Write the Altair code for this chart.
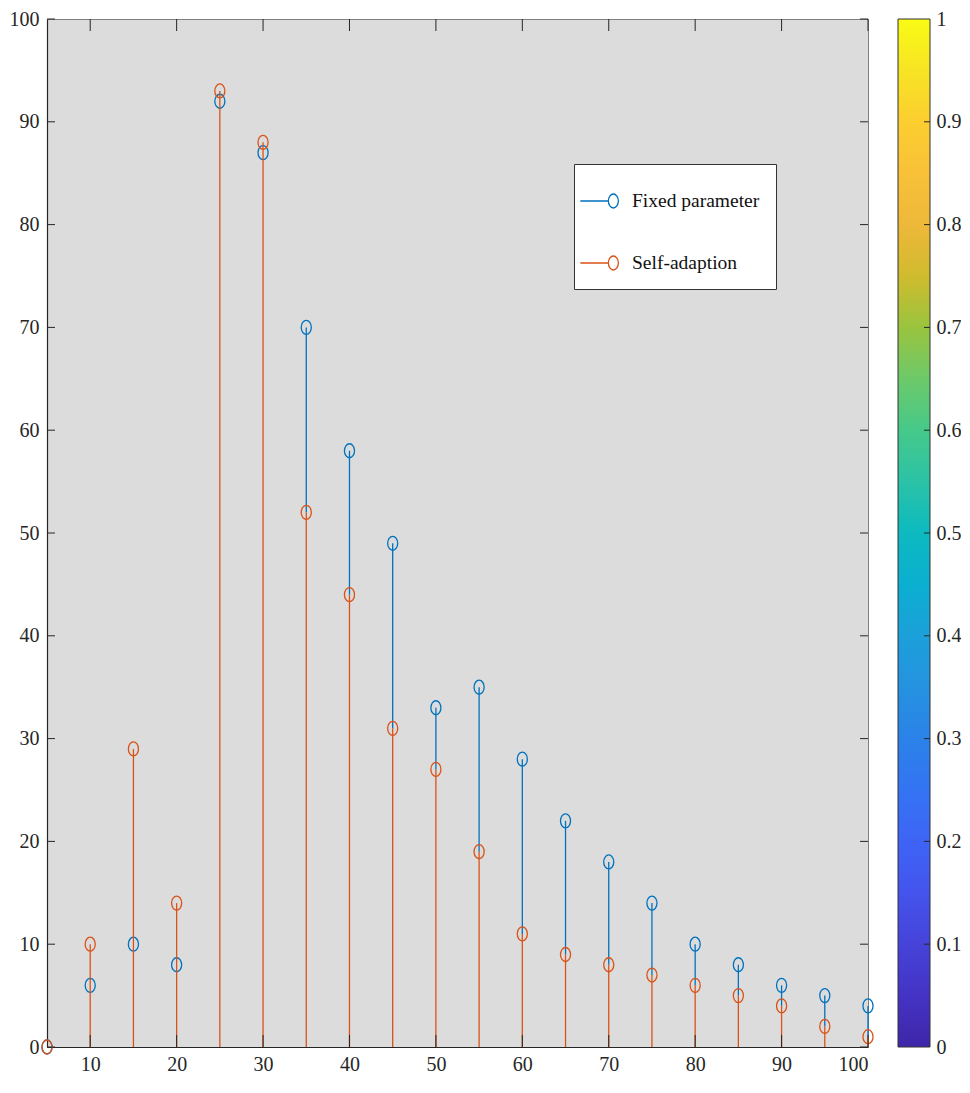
import altair as alt
import pandas as pd

# ---- data ----
x_vals = [5, 10, 15, 20, 25, 30, 35, 40, 45, 50, 55, 60, 65, 70, 75, 80, 85, 90, 95, 100]
fixed_vals = [0, 6, 10, 8, 92, 87, 70, 58, 49, 33, 35, 28, 22, 18, 14, 10, 8, 6, 5, 4]
adapt_vals = [0, 10, 29, 14, 93, 88, 52, 44, 31, 27, 19, 11, 9, 8, 7, 6, 5, 4, 2, 1]
series_names = ["Fixed parameter", "Self-adaption"]
series_colors = ["#0072BD", "#D95319"]

x_ticks = [10, 20, 30, 40, 50, 60, 70, 80, 90, 100]
y_ticks = [0, 10, 20, 30, 40, 50, 60, 70, 80, 90, 100]
cb_ticks = [0, 0.1, 0.2, 0.3, 0.4, 0.5, 0.6, 0.7, 0.8, 0.9, 1]

# parula colour stops
parula_offsets = [0.0, 0.05, 0.1, 0.15, 0.2, 0.25, 0.3, 0.35, 0.4, 0.45, 0.5,
                  0.55, 0.6, 0.65, 0.7, 0.75, 0.8, 0.85, 0.9, 0.95, 1.0]
parula_colors = ["#3E26A8", "#4433C4", "#4643D9", "#4454EC", "#3E64F5", "#3474F3",
                 "#2B82E8", "#2592E0", "#1CA0DA", "#0BAFD0", "#0CBAC0", "#2BC2A6",
                 "#46C98A", "#6DC96A", "#9AC43E", "#D0BB2E", "#EEB83A", "#F8C138",
                 "#FCCE30", "#F7E424", "#F9FB15"]

W, H = 821, 1028
FONT = "Liberation Serif"
FS = 20
AX = "#262626"

# The second series' stems are drawn over the first ones (as in a MATLAB stem
# plot), so the first series' stem is only visible above the second one.
rows = []
for xv, fv, av in zip(x_vals, fixed_vals, adapt_vals):
    rows.append({"x": xv, "v": fv, "base": min(fv, av), "series": series_names[0]})
    rows.append({"x": xv, "v": av, "base": 0, "series": series_names[1]})
df = pd.DataFrame(rows)

xscale = alt.Scale(domain=[5, 100], nice=False, zero=False)
yscale = alt.Scale(domain=[0, 100], nice=False)

ellipse = "M -0.72 0 A 0.72 1 0 1 0 0.72 0 A 0.72 1 0 1 0 -0.72 0 Z"
legend_path = ("M -1.533 0 L -0.132 0 M -0.132 0 A 0.25 0.35 0 1 0 0.368 0 "
               "A 0.25 0.35 0 1 0 -0.132 0")

legend = alt.Legend(
    title=None, orient="none", legendX=527, legendY=145,
    fillColor="white", strokeColor="#333333", padding=16,
    symbolType=legend_path, symbolSize=1600, symbolStrokeWidth=1.3,
    symbolFillColor="transparent", labelOffset=0, rowPadding=31,
    labelFont=FONT, labelFontSize=19.5, labelColor="#111111",
)
color = alt.Color("series:N", scale=alt.Scale(domain=series_names, range=series_colors),
                  legend=legend)

xaxis = alt.Axis(values=x_ticks, ticks=False, grid=False, domainColor=AX, domainWidth=1.2,
                 labelFont=FONT, labelFontSize=FS, labelColor=AX, labelPadding=7, title=None)
yaxis = alt.Axis(values=y_ticks, ticks=False, grid=False, domainColor=AX, domainWidth=1.2,
                 labelFont=FONT, labelFontSize=FS, labelColor=AX, labelPadding=8, title=None)

base = alt.Chart(df)
layers = []
for name, col in zip(series_names, series_colors):
    sub = base.transform_filter(alt.datum.series == name)
    layers.append(sub.mark_rule(color=col, strokeWidth=1.3).encode(
        x=alt.X("x:Q", scale=xscale, axis=xaxis),
        y=alt.Y("v:Q", scale=yscale, axis=yaxis),
        y2="base:Q"))
    layers.append(sub.mark_point(shape=ellipse, filled=False, size=196, strokeWidth=1.3,
                                 opacity=1).encode(
        x=alt.X("x:Q", scale=xscale), y=alt.Y("v:Q", scale=yscale), color=color))

xt = pd.DataFrame({"t": x_ticks})
yt = pd.DataFrame({"t": y_ticks})
tick_layers = [
    alt.Chart(xt).mark_rule(color=AX, strokeWidth=1).encode(
        x=alt.X("t:Q", scale=xscale), y=alt.value(H), y2=alt.value(H - 12)),
    alt.Chart(xt).mark_rule(color=AX, strokeWidth=1).encode(
        x=alt.X("t:Q", scale=xscale), y=alt.value(0), y2=alt.value(12)),
    alt.Chart(yt).mark_rule(color=AX, strokeWidth=1).encode(
        y=alt.Y("t:Q", scale=yscale), x=alt.value(0), x2=alt.value(8)),
    alt.Chart(yt).mark_rule(color=AX, strokeWidth=1).encode(
        y=alt.Y("t:Q", scale=yscale), x=alt.value(W), x2=alt.value(W - 8)),
]

main = alt.layer(*layers, *tick_layers).properties(
    width=W, height=H,
    view=alt.ViewBackground(fill="#DCDCDC", stroke="#808080", strokeWidth=1))

# ---- colour bar ----
cbw = 32
grad = alt.Gradient(gradient="linear", x1=0, x2=0, y1=1, y2=0,
                    stops=[alt.GradientStop(color=c, offset=o)
                           for o, c in zip(parula_offsets, parula_colors)])
cbscale = alt.Scale(domain=[0, 1], nice=False)
cb_rect = alt.Chart(pd.DataFrame({"lo": [0], "hi": [1]})).mark_rect(
    fill=grad, stroke="#333333", strokeWidth=1).encode(
    y=alt.Y("lo:Q", scale=cbscale,
            axis=alt.Axis(orient="right", values=cb_ticks, format="~g", ticks=False,
                          domain=False, grid=False, labelFont=FONT, labelFontSize=FS,
                          labelColor=AX, labelPadding=6, title=None)),
    y2="hi:Q", x=alt.value(0), x2=alt.value(cbw))
cb_ticks_layer = alt.Chart(pd.DataFrame({"t": cb_ticks[1:-1]})).mark_rule(
    color=AX, strokeWidth=1).encode(
    y=alt.Y("t:Q", scale=cbscale), x=alt.value(cbw - 6), x2=alt.value(cbw))
colorbar = alt.layer(cb_rect, cb_ticks_layer).properties(
    width=cbw, height=H, view=alt.ViewBackground(stroke=None))

chart = alt.hconcat(main, colorbar, spacing=30, bounds="flush").properties(
    padding=0).configure(background="white").configure_view(strokeWidth=1)

chart.save("out.html", embed_options={"renderer": "svg", "actions": False})
